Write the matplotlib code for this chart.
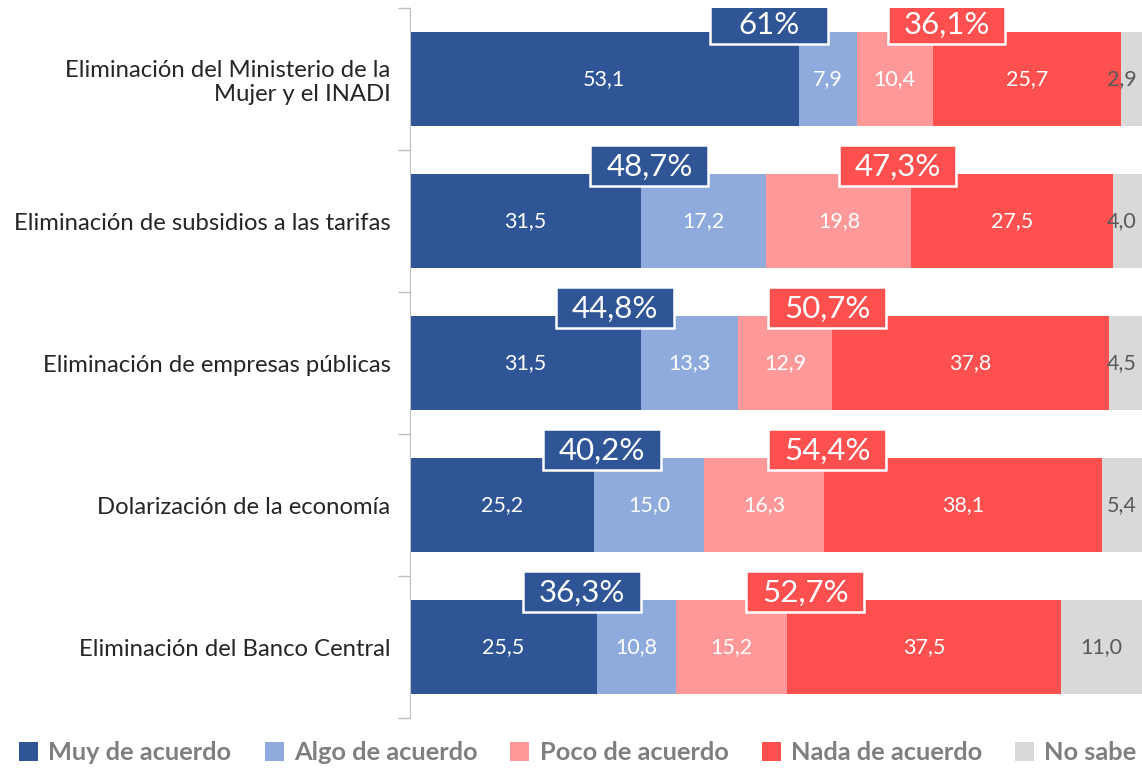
import numpy as np
import matplotlib.pyplot as plt
from matplotlib.patches import Patch, Rectangle

plt.rcParams['font.family'] = ['Lato', 'DejaVu Sans']

categories = [
    "Eliminación del Ministerio de la\nMujer y el INADI",
    "Eliminación de subsidios a las tarifas",
    "Eliminación de empresas públicas",
    "Dolarización de la economía",
    "Eliminación del Banco Central",
]
series = ["Muy de acuerdo", "Algo de acuerdo", "Poco de acuerdo", "Nada de acuerdo", "No sabe"]
muy = [53.1, 31.5, 31.5, 25.2, 25.5]
algo = [7.9, 17.2, 13.3, 15.0, 10.8]
poco = [10.4, 19.8, 12.9, 16.3, 15.2]
nada = [25.7, 27.5, 37.8, 38.1, 37.5]
nosabe = [2.9, 4.0, 4.5, 5.4, 11.0]
acuerdo_total = ["61%", "48,7%", "44,8%", "40,2%", "36,3%"]
desacuerdo_total = ["36,1%", "47,3%", "50,7%", "54,4%", "52,7%"]

# where the summary boxes sit (data units along x)
acuerdo_box_x = [49.0, 32.7, 28.0, 26.2, 23.5]
desacuerdo_box_x = [73.3, 66.6, 57.0, 57.0, 54.0]

colors = ["#2F5597", "#8FAADC", "#FF9999", "#FF5050", "#D9D9D9"]
label_colors = ["white", "white", "white", "white", "#595959"]

fig = plt.figure(figsize=(11.42, 7.7), dpi=100)
ax = fig.add_axes([410 / 1142, 52 / 770, 1 - 410 / 1142, 710 / 770])

bar_h = 0.66
y = np.arange(len(categories))
left = np.zeros(len(categories))
for vals, col, lc in zip([muy, algo, poco, nada, nosabe], colors, label_colors):
    vals = np.array(vals)
    ax.barh(y, vals, left=left, height=bar_h, color=col, edgecolor='none')
    for i, v in enumerate(vals):
        cx = min(left[i] + v / 2, 97.2)
        ax.text(cx, y[i], f"{v:.1f}".replace('.', ','), ha='center', va='center',
                color=lc, fontsize=15.5)
    left += vals

box_w, box_h = 16.1, 0.289
for i in range(len(categories)):
    yc = y[i] - bar_h / 2 - 0.06
    for bx, txt, col in [(acuerdo_box_x[i], acuerdo_total[i], colors[0]),
                         (desacuerdo_box_x[i], desacuerdo_total[i], colors[3])]:
        ax.add_patch(Rectangle((bx - box_w / 2, yc - box_h / 2), box_w, box_h,
                               fc=col, ec='white', lw=1.8, zorder=5))
        ax.text(bx, yc + 0.01, txt, ha='center', va='center', color='white',
                fontsize=22.5, zorder=6)

ax.set_xlim(0, 100)
ax.set_ylim(len(categories) - 0.5, -0.5)
ax.set_yticks(y)
ax.set_yticklabels(categories, fontsize=17.2, color='#262626')
ax.tick_params(axis='y', which='major', length=0, pad=14)
ax.set_yticks(np.arange(-0.5, len(categories)), minor=True)
ax.tick_params(axis='y', which='minor', length=9, color='#BFBFBF', width=1)
ax.set_xticks([])
for s in ['top', 'right', 'bottom']:
    ax.spines[s].set_visible(False)
ax.spines['left'].set_color('#BFBFBF')

handles = [Patch(facecolor=c, edgecolor='none') for c in colors]
leg = fig.legend(handles, series, loc='lower center', bbox_to_anchor=(0.506, -0.022), ncol=5,
                 frameon=False, fontsize=18.3, handlelength=0.75, handleheight=0.75,
                 handletextpad=0.4, columnspacing=1.3)
for t in leg.get_texts():
    t.set_color('#7F7F7F')
    t.set_fontweight('bold')

fig.savefig('out.png', dpi=100)
